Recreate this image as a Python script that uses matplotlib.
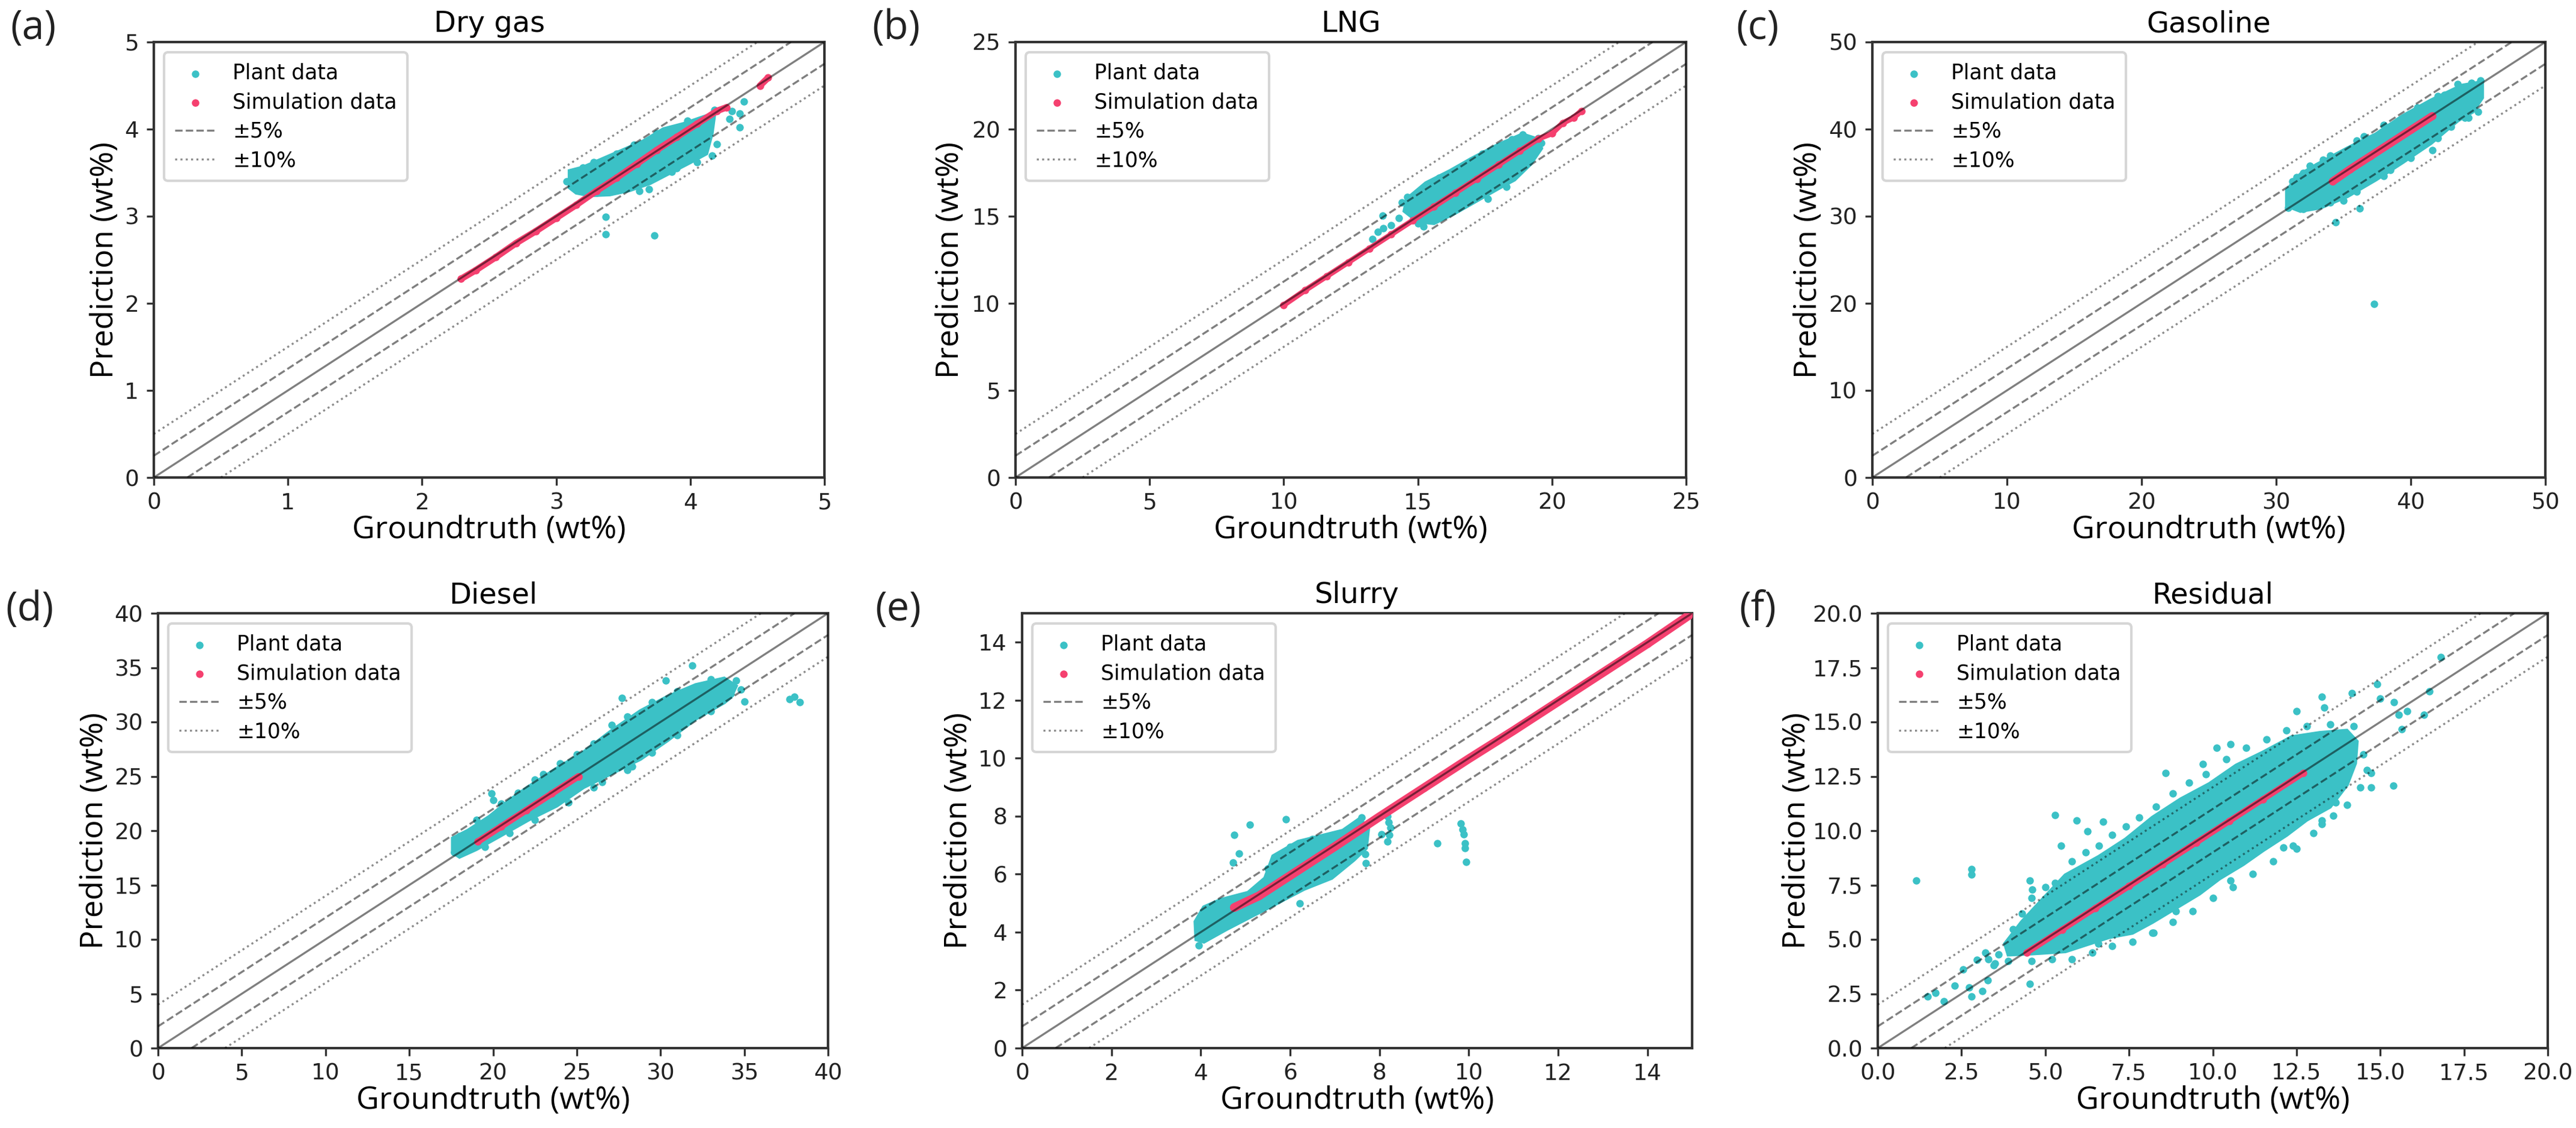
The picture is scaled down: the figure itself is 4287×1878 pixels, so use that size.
import numpy as np
import matplotlib
matplotlib.use("Agg")
import matplotlib.pyplot as plt
from matplotlib.ticker import FormatStrFormatter

nan = float("nan")

# ---------------- data ----------------
titles = ["Dry gas", "LNG", "Gasoline", "Diesel", "Slurry", "Residual"]
panel_letters = ["(a)", "(b)", "(c)", "(d)", "(e)", "(f)"]
axis_max = [5, 25, 50, 40, 15, 20]
tick_values = [
    [0, 1, 2, 3, 4, 5],
    [0, 5, 10, 15, 20, 25],
    [0, 10, 20, 30, 40, 50],
    [0, 5, 10, 15, 20, 25, 30, 35, 40],
    [0, 2, 4, 6, 8, 10, 12, 14],
    [0, 2.5, 5, 7.5, 10, 12.5, 15, 17.5, 20],
]
legend_labels = ["Plant data", "Simulation data", "±5%", "±10%"]

# Dry gas
drygas_core_x = [3.10, 3.10, 3.20, 3.35, 3.50, 3.65, 3.80, 3.95, 4.10, 4.18, 4.16, 4.12, 4.00, 3.85, 3.70, 3.55, 3.40, 3.25, 3.15]
drygas_core_y = [3.33, 3.52, 3.56, 3.66, 3.76, 3.86, 4.00, 4.06, 4.14, 4.18, 3.95, 3.72, 3.62, 3.50, 3.38, 3.30, 3.25, 3.24, 3.27]
drygas_plant_x = [3.12, 3.15, 3.20, 3.37, 3.37, 3.73, 3.69, 3.86, 4.20, 4.29, 4.37, 4.40, 4.37, 4.31, 4.18, 4.05, 3.30, 3.45, 4.16, 4.14, 3.08, 3.28, 3.58, 3.75, 3.98, 3.62, 3.90]
drygas_plant_y = [3.50, 3.40, 3.56, 2.99, 2.79, 2.78, 3.31, 3.51, 3.83, 4.12, 4.02, 4.32, 4.18, 4.21, 4.22, 3.62, 3.27, 3.72, 3.70, 4.10, 3.40, 3.62, 3.82, 3.95, 4.10, 3.29, 3.55]
drygas_sim_x = [2.29, 2.40, 2.55, 2.70, 2.85, 3.00, 3.15, 3.30, 3.45, 3.60, 3.75, 3.90, 4.05, 4.20, 4.27, nan, 4.52, 4.58]
drygas_sim_y = [2.28, 2.38, 2.53, 2.69, 2.83, 2.98, 3.13, 3.29, 3.44, 3.60, 3.76, 3.91, 4.06, 4.21, 4.25, nan, 4.50, 4.59]

# LNG
lng_core_x = [14.5, 14.6, 15.3, 16.2, 17.0, 18.0, 18.9, 19.5, 19.6, 19.2, 18.6, 18.0, 17.2, 16.4, 15.6, 15.0]
lng_core_y = [15.3, 16.0, 16.9, 17.6, 18.3, 19.1, 19.7, 19.4, 18.9, 18.0, 17.1, 16.6, 15.9, 15.2, 14.6, 14.7]
lng_plant_x = [13.3, 13.5, 13.7, 14.0, 14.3, 13.68, 14.4, 14.6, 18.3, 17.6, 19.6, 19.5, 15.0, 15.2, 16.6, 18.9, 15.8, 17.4, 18.5]
lng_plant_y = [13.7, 14.1, 14.3, 14.5, 14.9, 15.03, 15.8, 16.1, 16.7, 16.0, 19.2, 19.5, 14.6, 14.4, 17.6, 19.7, 17.2, 18.6, 19.4]
lng_sim_x = [10.0, 10.8, 11.6, 12.4, 13.2, 14.0, 14.8, 15.6, 16.4, 17.2, 18.0, 18.8, 19.5, 20.0, 20.4, 20.8, 21.1]
lng_sim_y = [9.9, 10.75, 11.55, 12.35, 13.15, 13.95, 14.75, 15.55, 16.35, 17.15, 17.95, 18.75, 19.45, 19.75, 20.35, 20.65, 21.05]

# Gasoline
gasoline_core_x = [30.8, 30.8, 31.8, 33.0, 35.3, 37.4, 39.4, 41.5, 43.8, 45.3, 45.3, 44.6, 43.5, 41.5, 39.4, 37.4, 35.3, 33.3, 31.8]
gasoline_core_y = [31.2, 33.0, 34.8, 35.9, 37.8, 39.4, 41.5, 43.3, 45.0, 45.4, 43.6, 42.0, 41.0, 38.4, 36.2, 34.2, 32.3, 31.0, 30.6]
gasoline_plant_x = [37.27, 34.4, 36.2, 41.6, 44.3, 45.0, 45.2, 44.5, 30.9, 31.2, 32.0, 33.5, 36.0, 39.0, 42.5, 43.0, 38.5, 35.0,
                    31.5, 32.5, 34.0, 36.5, 38.0, 40.5, 42.0, 43.5, 32.0, 34.0, 36.0, 38.0, 40.0, 42.0, 44.0]
gasoline_plant_y = [19.95, 29.3, 30.9, 37.6, 41.3, 42.0, 45.6, 45.3, 31.0, 34.0, 35.0, 36.5, 38.7, 40.8, 43.9, 40.3, 35.3, 31.8,
                    34.5, 35.8, 37.0, 39.2, 40.5, 42.5, 43.8, 45.2, 30.8, 31.6, 32.8, 34.6, 36.7, 39.0, 41.3]
gasoline_sim_x = [34.2, 35.5, 37.0, 38.5, 40.0, 41.6]
gasoline_sim_y = [34.0, 35.4, 36.9, 38.4, 39.9, 41.5]

# Diesel
diesel_core_x = [17.6, 17.6, 18.5, 19.8, 21.0, 22.1, 23.8, 25.4, 27.1, 28.8, 30.4, 32.1, 33.8, 34.5, 34.2, 33.8, 32.1, 30.4, 28.8, 27.1, 25.4, 23.8, 22.1, 20.5, 19.0, 18.0]
diesel_core_y = [18.0, 19.3, 20.0, 21.3, 22.8, 24.0, 25.7, 27.2, 29.2, 31.0, 32.3, 33.4, 34.0, 33.3, 32.3, 31.8, 30.3, 28.3, 26.6, 25.3, 24.0, 22.3, 21.0, 19.6, 18.3, 17.6]
diesel_plant_x = [37.7, 38.0, 38.3, 35.0, 31.9, 30.3, 27.7, 19.9, 26.5, 27.1, 28.3, 18.0, 17.7, 20.0, 34.5, 34.2, 24.0, 22.5,
                  19.0, 20.5, 21.5, 23.0, 25.0, 26.0, 28.0, 29.5, 31.0, 33.0, 19.5, 21.0, 22.5, 24.5, 26.0, 28.0, 29.5, 31.0, 33.0, 34.8]
diesel_plant_y = [32.1, 32.3, 31.8, 31.9, 35.2, 33.8, 32.2, 23.4, 24.5, 29.7, 25.9, 19.5, 18.0, 22.8, 33.8, 32.6, 26.2, 24.7,
                  21.0, 22.5, 23.5, 25.2, 27.0, 28.0, 30.5, 31.8, 32.8, 33.9, 18.5, 19.8, 21.0, 22.6, 24.0, 25.6, 27.2, 28.8, 31.0, 33.0]
diesel_sim_x = [19.1, 20.5, 22.0, 23.5, 25.1]
diesel_sim_y = [19.0, 20.4, 21.9, 23.4, 25.0]

# Slurry
slurry_core_x = [3.88, 4.07, 4.44, 5.06, 5.44, 5.62, 6.18, 6.68, 7.18, 7.55, 7.75, 7.70, 7.43, 6.93, 6.31, 5.69, 5.06, 4.57, 4.07, 3.90]
slurry_core_y = [4.36, 4.86, 5.11, 5.36, 5.86, 6.62, 7.12, 7.31, 7.50, 7.90, 7.60, 6.90, 6.50, 5.87, 5.49, 4.99, 4.49, 4.10, 3.67, 3.75]
slurry_plant_x = [4.75, 5.10, 5.90, 4.85, 4.72, 7.70, 6.21, 8.18, 8.20, 8.24, 8.22, 8.18, 9.30, 9.82, 9.86, 9.89, 9.92, 9.92, 9.94, 7.68, 8.05, 3.95, 4.00, 5.50, 5.80, 6.00, 7.20, 7.40, 7.60, 6.50]
slurry_plant_y = [7.35, 7.71, 7.90, 6.72, 6.40, 6.38, 5.00, 7.99, 7.80, 7.61, 7.35, 7.12, 7.06, 7.75, 7.55, 7.37, 7.06, 6.90, 6.43, 6.69, 7.37, 3.55, 4.45, 6.20, 6.50, 6.95, 7.00, 7.60, 7.95, 7.20]
slurry_sim_x = [4.75, 5.30, 6.00, 7.00, 8.00, 9.00, 10.00, 11.00, 12.00, 13.00, 14.00, 14.95]
slurry_sim_y = [4.85, 5.25, 5.95, 6.95, 7.98, 8.98, 9.98, 10.95, 11.95, 12.95, 13.95, 14.95]

# Residual
residual_core_x = [3.9, 4.6, 5.6, 6.3, 6.9, 7.6, 8.2, 8.9, 9.6, 10.2, 10.9, 11.5, 12.2, 12.8, 13.5, 14.0, 14.25, 14.3, 14.0, 13.2, 12.35, 11.5, 10.7, 9.9, 9.05, 8.2, 7.4, 6.6, 5.6, 4.9, 4.3, 3.8]
residual_core_y = [4.3, 4.35, 4.45, 4.8, 5.1, 5.3, 5.8, 6.45, 7.1, 7.8, 8.45, 9.1, 9.8, 10.5, 11.1, 12.1, 13.1, 14.1, 14.6, 14.5, 14.3, 13.6, 13.0, 12.15, 11.45, 10.6, 9.6, 8.8, 7.95, 6.8, 5.8, 4.8]
residual_plant_x = [1.15, 2.80, 2.80, 1.48, 1.73, 1.98, 2.30, 2.72, 2.80, 3.13, 2.55, 3.29, 2.96, 3.21, 3.46, 4.53, 4.03, 4.53, 4.61, 5.30, 5.93, 5.47, 6.26, 6.72, 8.59, 9.71, 10.12, 10.53, 12.51, 13.25, 13.33, 14.16, 14.90, 15.00, 15.40, 15.55, 15.80, 16.46, 16.80, 16.30, 15.64, 15.39, 14.73, 14.73, 13.66, 13.25, 13.25, 12.10, 12.51, 11.11, 10.53, 8.89, 8.23, 6.58,
                    4.3, 4.6, 5.0, 5.3, 5.8, 6.2, 6.6, 7.0, 7.4, 7.8, 8.3, 8.8, 9.3, 9.8, 10.4, 11.0, 11.6, 12.2, 12.8, 13.5, 14.2,
                    14.5, 14.6, 14.4, 14.0, 13.6, 13.0, 12.4, 11.8, 11.2, 10.6, 10.0, 9.4, 8.8, 8.2, 7.6, 7.0, 6.4, 5.8, 5.2, 4.6,
                    3.6, 3.5, 3.9, 4.2, 3.3]
residual_plant_y = [7.72, 8.22, 7.97, 2.37, 2.54, 2.15, 2.87, 2.79, 2.37, 2.62, 3.63, 3.13, 4.05, 4.38, 3.80, 2.96, 5.46, 7.72, 7.30, 10.73, 10.48, 9.31, 9.98, 10.41, 12.65, 13.07, 13.82, 13.99, 15.49, 16.16, 15.66, 16.33, 16.74, 16.07, 15.90, 15.32, 15.49, 16.41, 17.99, 15.32, 14.66, 12.06, 11.98, 12.65, 11.31, 10.31, 10.48, 9.24, 9.16, 8.99, 7.71, 6.30, 5.30, 4.80,
                    6.2, 6.9, 7.4, 7.6, 8.6, 9.0, 9.3, 9.8, 10.2, 10.6, 11.1, 11.7, 12.2, 12.6, 13.3, 13.8, 14.2, 14.6, 14.8, 14.9, 14.8,
                    13.5, 12.8, 12.0, 11.2, 10.7, 9.9, 9.3, 8.6, 8.0, 7.4, 6.9, 6.3, 5.8, 5.3, 4.9, 4.7, 4.4, 4.1, 4.1, 4.0,
                    4.3, 3.9, 4.0, 4.7, 4.1]
residual_sim_x = [4.45, 5.5, 6.5, 7.5, 8.5, 9.5, 10.5, 11.5, 12.7]
residual_sim_y = [4.40, 5.45, 6.45, 7.45, 8.45, 9.45, 10.45, 11.45, 12.65]

panels = [
    (drygas_core_x, drygas_core_y, drygas_plant_x, drygas_plant_y, drygas_sim_x, drygas_sim_y),
    (lng_core_x, lng_core_y, lng_plant_x, lng_plant_y, lng_sim_x, lng_sim_y),
    (gasoline_core_x, gasoline_core_y, gasoline_plant_x, gasoline_plant_y, gasoline_sim_x, gasoline_sim_y),
    (diesel_core_x, diesel_core_y, diesel_plant_x, diesel_plant_y, diesel_sim_x, diesel_sim_y),
    (slurry_core_x, slurry_core_y, slurry_plant_x, slurry_plant_y, slurry_sim_x, slurry_sim_y),
    (residual_core_x, residual_core_y, residual_plant_x, residual_plant_y, residual_sim_x, residual_sim_y),
]

# ---------------- layout / style ----------------
W, H = 4287, 1878
DPI = 300
teal = "#3bc1c6"
pink = "#f5406f"
boxes_px = [(256, 1372, 70, 795), (1690, 2806, 70, 795), (3116, 4236, 70, 795),
            (263, 1378, 1021, 1745), (1701, 2816, 1021, 1745), (3125, 4240, 1021, 1745)]
letter_px = [(17, 14), (1451, 14), (2889, 14), (9, 981), (1456, 981), (2894, 981)]
ylabel_x = [-0.05, -0.074, -0.072, -0.072, -0.072, -0.098]
sim_lw = [2.6, 2.2, 3.2, 2.6, 3.5, 2.4]

fig = plt.figure(figsize=(W / DPI, H / DPI), dpi=DPI)

for i in range(6):
    core_x, core_y, px, py, sx, sy = panels[i]
    x0, x1, yt, yb = boxes_px[i]
    ax = fig.add_axes([x0 / W, 1 - yb / H, (x1 - x0) / W, (yb - yt) / H])
    lim = axis_max[i]

    ax.fill(core_x, core_y, color=teal, ec=teal, lw=1.5, zorder=1)
    h_plant = ax.scatter(px, py, s=9, color=teal, lw=0, zorder=2)
    ax.plot(sx, sy, color=pink, lw=sim_lw[i], solid_capstyle="round", zorder=3)
    h_sim = ax.scatter(sx, sy, s=9, color=pink, lw=0, zorder=3)

    ax.axline((0, 0), slope=1, color="k", alpha=0.5, lw=0.8, zorder=4)
    for sgn in (1, -1):
        h5 = ax.axline((0, sgn * 0.05 * lim), slope=1, color="k", alpha=0.5, lw=0.8, ls="--", zorder=4)
        h10 = ax.axline((0, sgn * 0.10 * lim), slope=1, color="k", alpha=0.45, lw=0.8, ls=":", zorder=4)

    ax.set_xlim(0, lim)
    ax.set_ylim(0, lim)
    ax.set_xticks(tick_values[i])
    ax.set_yticks(tick_values[i])
    if i == 5:
        ax.xaxis.set_major_formatter(FormatStrFormatter("%.1f"))
        ax.yaxis.set_major_formatter(FormatStrFormatter("%.1f"))
    ax.tick_params(labelsize=9, labelcolor="#222222", color="#333333", length=3, width=0.8, pad=3)
    for sp in ax.spines.values():
        sp.set_color("#333333")
        sp.set_linewidth(1.0)

    ax.set_title(titles[i], fontsize=11.5, pad=4, family="DejaVu Sans")
    ax.set_xlabel("Groundtruth (wt%)", fontsize=12.5, family="Open Sans")
    ax.set_ylabel("Prediction (wt%)", fontsize=12.5, family="Open Sans")
    ax.xaxis.set_label_coords(0.5, -0.085)
    ax.yaxis.set_label_coords(ylabel_x[i], 0.5)

    ax.legend([h_plant, h_sim, h5, h10], legend_labels, loc="upper left",
              fontsize=8.3, labelspacing=0.42, borderaxespad=0.5, borderpad=0.5)

    lx, ly = letter_px[i]
    fig.text(lx / W, 1 - ly / H, panel_letters[i], fontsize=16, family="Open Sans",
             ha="left", va="top", color="#222222")

fig.savefig("out.png", dpi=DPI)
